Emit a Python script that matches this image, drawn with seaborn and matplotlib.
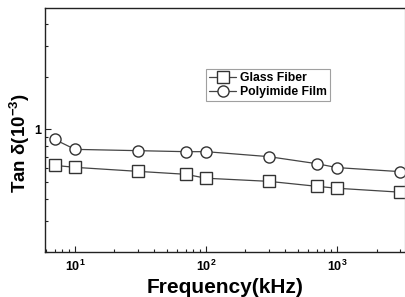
import matplotlib
matplotlib.use("Agg")
import matplotlib.pyplot as plt
import seaborn as sns
import pandas as pd
from matplotlib.ticker import LogLocator, FixedLocator, FixedFormatter, NullFormatter

freq = [7, 10, 30, 70, 100, 300, 700, 1000, 3000]
glass_fiber = [0.624, 0.608, 0.577, 0.555, 0.527, 0.506, 0.474, 0.462, 0.439]
polyimide_film = [0.877, 0.770, 0.757, 0.747, 0.747, 0.700, 0.638, 0.606, 0.575]
series_names = ["Glass Fiber", "Polyimide Film"]
x_ticks = [10, 100, 1000]
x_tick_labels = ["$10^{1}$", "$10^{2}$", "$10^{3}$"]
y_ticks = [1]
y_tick_labels = ["1"]

sns.set_style("ticks")
plt.rcParams["font.family"] = ["Liberation Sans", "DejaVu Sans"]
plt.rcParams["mathtext.fontset"] = "custom"
plt.rcParams["mathtext.rm"] = "Liberation Sans:bold"
plt.rcParams["mathtext.bf"] = "Liberation Sans:bold"
plt.rcParams["mathtext.it"] = "Liberation Sans:bold"
plt.rcParams["mathtext.default"] = "bf"

fig = plt.figure(figsize=(4.05, 2.97), dpi=100)
ax = fig.add_axes([45 / 405, 1 - 252 / 297, 360 / 405, 244 / 297])

df_g = pd.DataFrame({"Frequency": freq, "TanD": glass_fiber})
df_p = pd.DataFrame({"Frequency": freq, "TanD": polyimide_film})

common = dict(color="#444444", linewidth=0.9, markersize=8,
              markerfacecolor="white", markeredgecolor="#333333",
              markeredgewidth=1.0)
sns.lineplot(data=df_g, x="Frequency", y="TanD", marker="s",
             label=series_names[0], ax=ax, **common)
sns.lineplot(data=df_p, x="Frequency", y="TanD", marker="o",
             label=series_names[1], ax=ax, **common)

ax.set_xscale("log")
ax.set_yscale("log")
ax.set_xlim(5.9, 3300)
ax.set_ylim(0.2, 4.93)

ax.xaxis.set_major_locator(FixedLocator(x_ticks))
ax.xaxis.set_major_formatter(FixedFormatter(x_tick_labels))
ax.xaxis.set_minor_locator(LogLocator(base=10, subs=range(2, 10), numticks=20))
ax.xaxis.set_minor_formatter(NullFormatter())
ax.yaxis.set_major_locator(FixedLocator(y_ticks))
ax.yaxis.set_major_formatter(FixedFormatter(y_tick_labels))
ax.yaxis.set_minor_locator(LogLocator(base=10, subs=range(2, 10), numticks=20))
ax.yaxis.set_minor_formatter(NullFormatter())

ax.tick_params(which="both", direction="in", color="#222222", width=0.8,
               labelcolor="black")
ax.tick_params(axis="x", which="major", length=4, labelsize=9, pad=5)
ax.tick_params(axis="y", which="major", length=4, labelsize=9, pad=3)
ax.tick_params(which="minor", length=2.2)
for lab in ax.get_xticklabels() + ax.get_yticklabels():
    lab.set_fontweight("bold")

for s in ax.spines.values():
    s.set_color("#222222")
    s.set_linewidth(1.0)
ax.spines["right"].set_color("#bbbbbb")

ax.set_xlabel("Frequency(kHz)", fontsize=15, fontweight="bold", labelpad=3,
              color="black")
ax.set_ylabel("Tan δ(10$^{-3}$)", fontsize=13.5, fontweight="bold",
              color="black")
ax.yaxis.set_label_coords(-0.036, 0.447)

leg = ax.legend(loc="upper left", bbox_to_anchor=(206 / 405, 1 - 69 / 297),
                bbox_transform=fig.transFigure, fancybox=False, frameon=True,
                edgecolor="#888888", fontsize=8.8, handlelength=2.2,
                handletextpad=0.3, borderpad=0.25, labelspacing=0.15,
                borderaxespad=0)
leg.get_frame().set_linewidth(0.8)
for t in leg.get_texts():
    t.set_fontweight("bold")
    t.set_color("black")

fig.savefig("out.png", dpi=100)
